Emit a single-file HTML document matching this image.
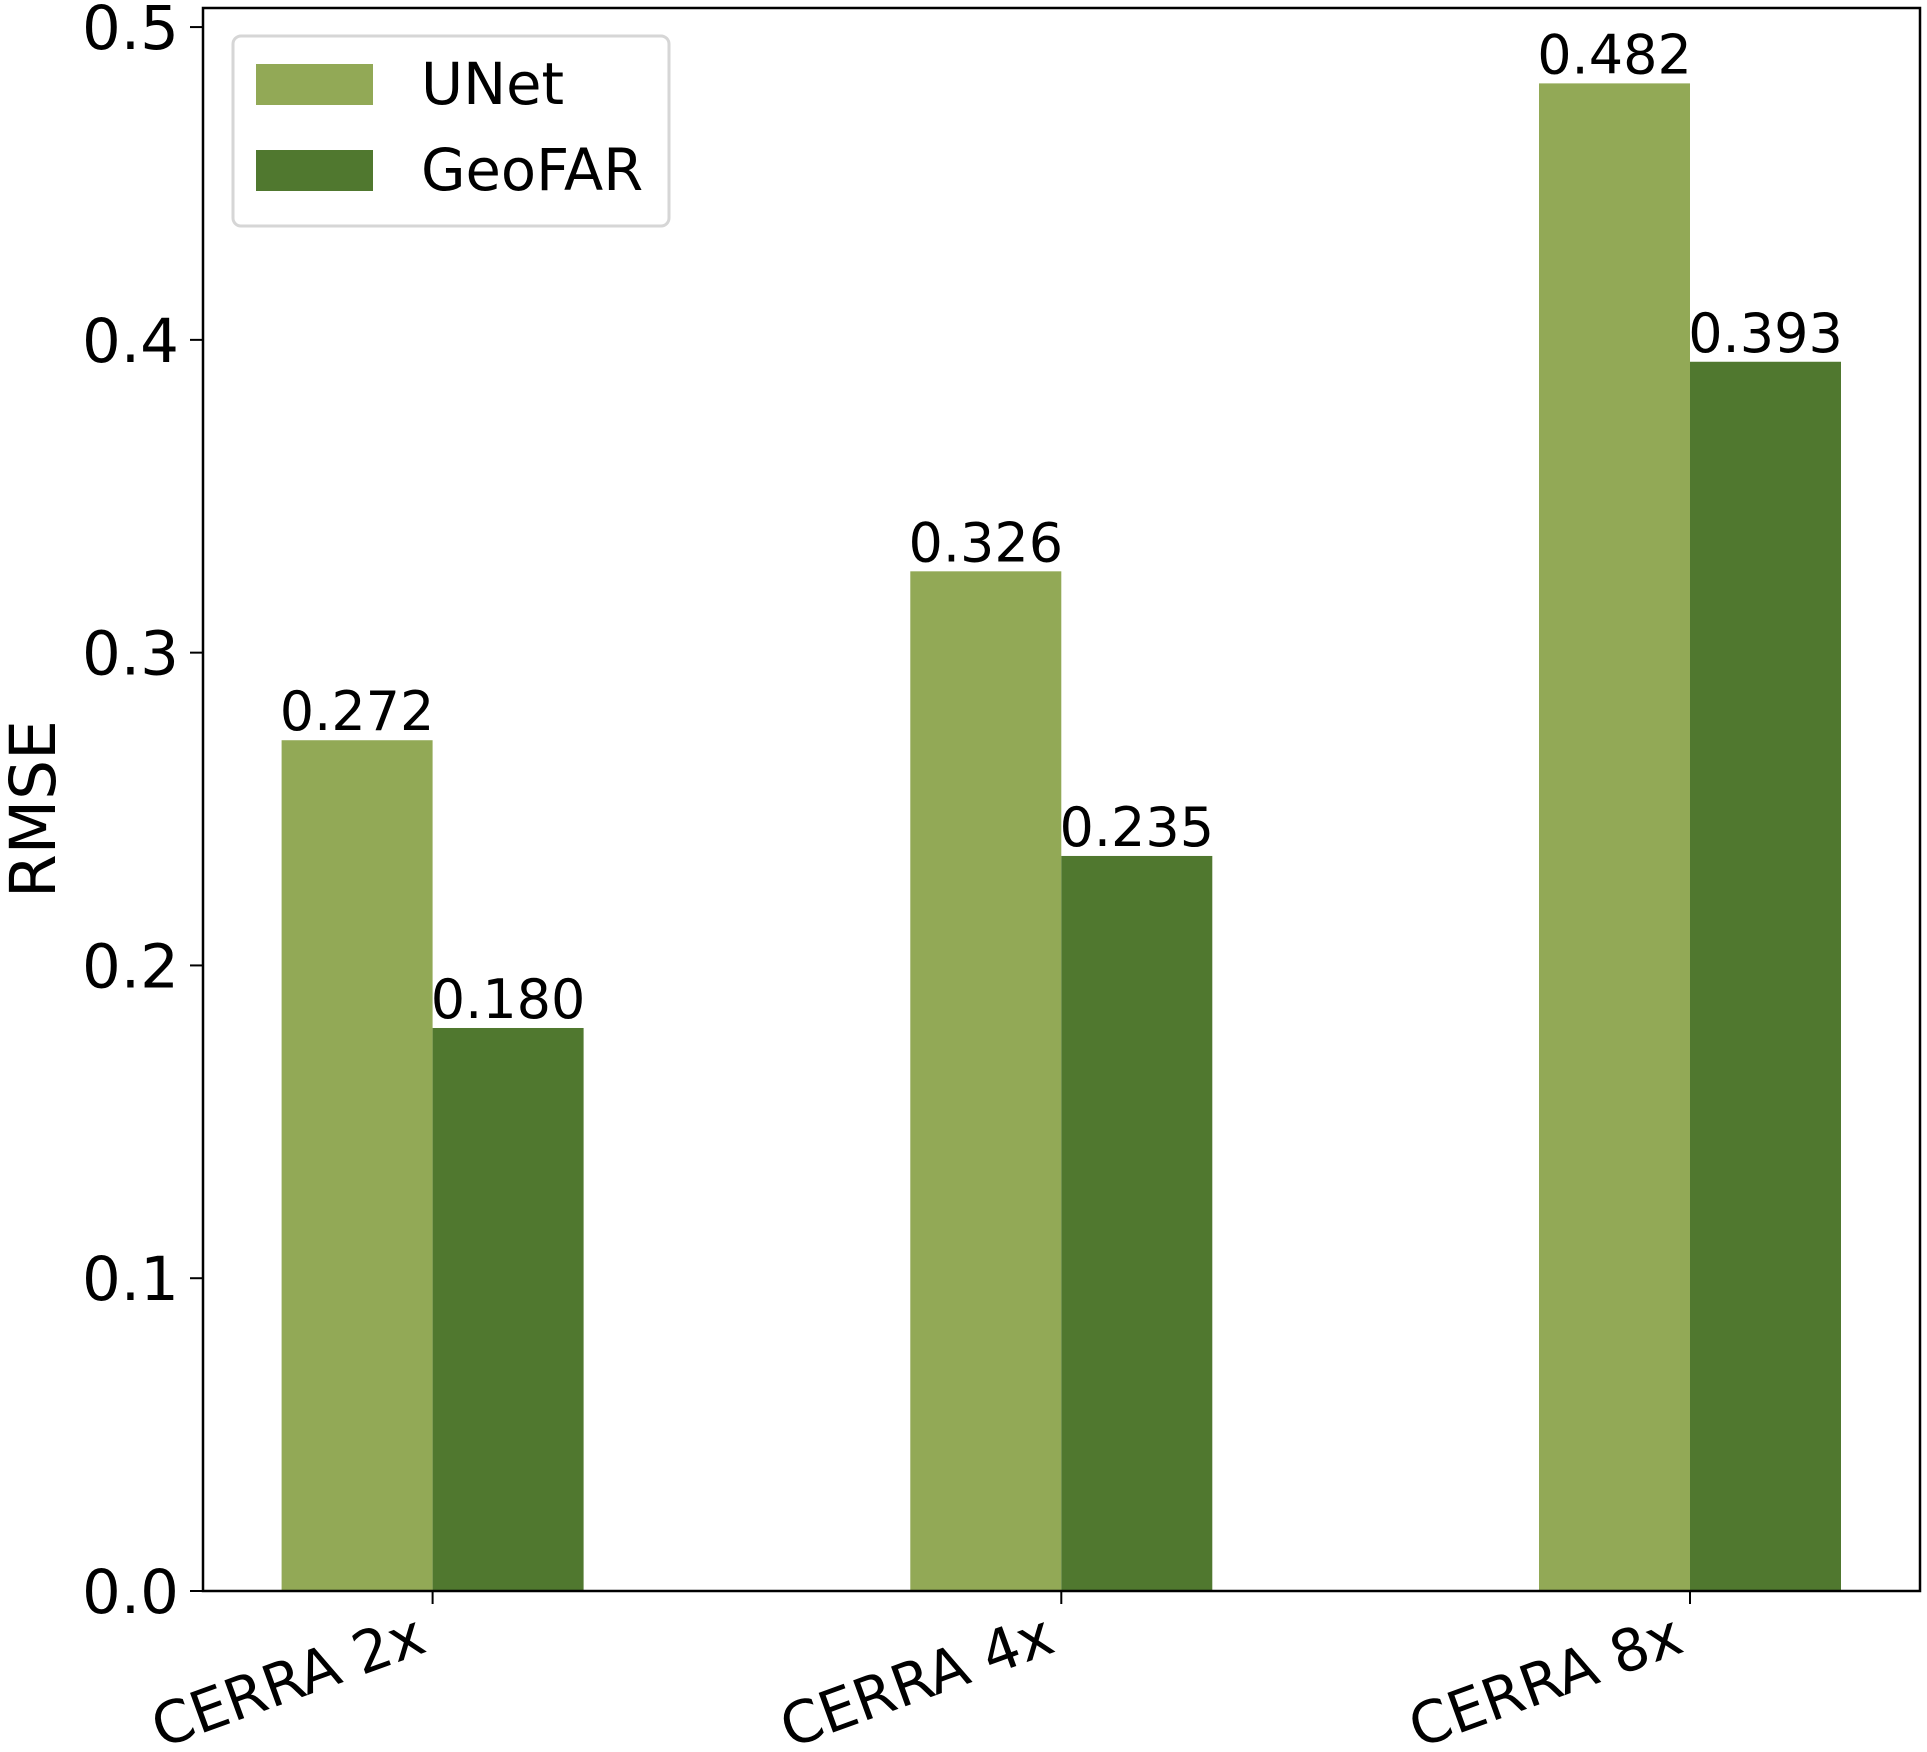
<!DOCTYPE html>
<html><head><meta charset="utf-8"><style>
body{margin:0;background:#fff}
svg{display:block;font-family:"DejaVu Sans","Liberation Sans",sans-serif}
</style></head><body>
<svg id="chart" width="1927" height="1752" viewBox="0 0 1927 1752" xmlns="http://www.w3.org/2000/svg">
<rect width="1927" height="1752" fill="#fff"/>
<g id="plot"></g>
<text x="0" y="0" font-size="63" text-anchor="middle" transform="translate(55,809) rotate(-90)">RMSE</text>
<g>
<rect x="233" y="36" width="436" height="190" rx="8" fill="#fff" stroke="#d6d6d6" stroke-width="3"/>
<rect x="256" y="64" width="117" height="41" fill="#92a956"/>
<text x="421" y="104" font-size="57.5">UNet</text>
<rect x="256" y="150" width="117" height="41" fill="#50782f"/>
<text x="421" y="190" font-size="57.5">GeoFAR</text>
</g>
</svg>
<script>
const categories = ["CERRA 2x", "CERRA 4x", "CERRA 8x"];
const unetValues = [0.272, 0.326, 0.482];
const geofarValues = [0.180, 0.235, 0.393];
const valueLabels1 = ["0.272", "0.326", "0.482"];
const valueLabels2 = ["0.180", "0.235", "0.393"];
const yTicks = [0.0, 0.1, 0.2, 0.3, 0.4, 0.5];
const yTickLabels = ["0.0", "0.1", "0.2", "0.3", "0.4", "0.5"];

const NS = "http://www.w3.org/2000/svg";
const plot = document.getElementById("plot");
const L = 203, R = 1920, T = 8, B = 1591;
const yMax = 0.5061;
function yS(v){ return B - v / yMax * (B - T); }
function xS(i){ return 432.6 + i * 628.7; }
const bw = 151;
function mk(tag, attrs){ const e = document.createElementNS(NS, tag); for (const k in attrs) e.setAttribute(k, attrs[k]); plot.appendChild(e); return e; }

categories.forEach((c, i) => {
  const cx = xS(i);
  const b1 = mk("rect", {x: cx - bw, y: yS(unetValues[i]), width: bw, height: B - yS(unetValues[i]), fill: "#92a956"});
  
  
  const b2 = mk("rect", {x: cx, y: yS(geofarValues[i]), width: bw, height: B - yS(geofarValues[i]), fill: "#50782f"});
  
  
  const t1 = mk("text", {x: cx - bw / 2, y: yS(unetValues[i]) - 10, "font-size": 54, "text-anchor": "middle"});
  t1.textContent = valueLabels1[i];
  
  
  const t2 = mk("text", {x: cx + bw / 2, y: yS(geofarValues[i]) - 10, "font-size": 54, "text-anchor": "middle"});
  t2.textContent = valueLabels2[i];
  
  
  const tk = mk("line", {x1: cx, x2: cx, y1: B, y2: B + 13, stroke: "#000", "stroke-width": 2});
  
  
  const lx = cx - 4, ly = 1651;
  const tl = mk("text", {x: lx, y: ly, "font-size": 58, "text-anchor": "end", transform: "rotate(-20 " + lx + " " + ly + ")"});
  tl.textContent = c;
  
  
});

yTicks.forEach((v, i) => {
  const y = yS(v);
  const tk = mk("line", {x1: L - 13, x2: L, y1: y, y2: y, stroke: "#000", "stroke-width": 2});
  
  
  const tl = mk("text", {x: L - 24, y: y + 22, "font-size": 61, "text-anchor": "end"});
  tl.textContent = yTickLabels[i];
  
  
});

const frame = mk("rect", {x: L, y: T, width: R - L, height: B - T, fill: "none", stroke: "#000", "stroke-width": 2.5});


</script>
</body></html>
